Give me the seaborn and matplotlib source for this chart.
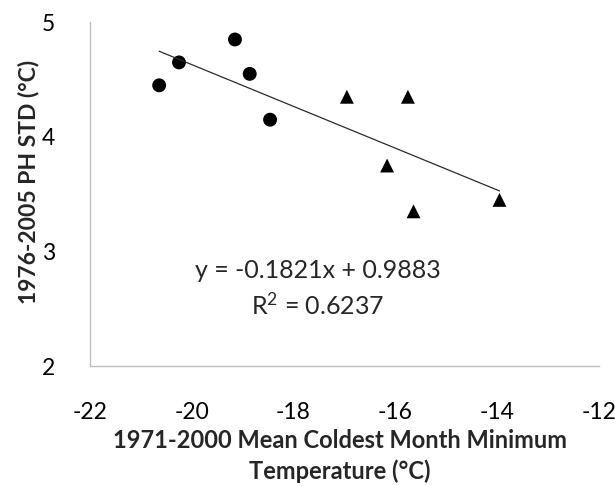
import numpy as np
import pandas as pd
import matplotlib
matplotlib.use("Agg")
import matplotlib.pyplot as plt
import seaborn as sns

# circle group (colder sites)
circle_x = [-20.64, -20.25, -19.15, -18.86, -18.46]
circle_y = [4.45, 4.65, 4.85, 4.55, 4.15]
# triangle group (warmer sites)
triangle_x = [-16.95, -15.75, -16.16, -15.64, -13.95]
triangle_y = [4.35, 4.35, 3.75, 3.35, 3.45]

x_ticks = [-22, -20, -18, -16, -14, -12]
y_ticks = [2, 3, 4, 5]
eq_text = "y = -0.1821x + 0.9883"
r2_text = "R$^2$ = 0.6237"

data = pd.DataFrame({
    "temp": circle_x + triangle_x,
    "std": circle_y + triangle_y,
    "group": ["circle"] * len(circle_x) + ["triangle"] * len(triangle_x),
})

sns.set_style("white")
plt.rcParams["font.family"] = ["Lato", "DejaVu Sans"]
plt.rcParams["mathtext.fontset"] = "custom"
plt.rcParams["mathtext.rm"] = "Lato"
plt.rcParams["mathtext.it"] = "Lato"
plt.rcParams["mathtext.default"] = "rm"

fig = plt.figure(figsize=(6.15, 4.86), dpi=100)
ax = fig.add_axes([0.1463, 0.2469, 0.8272, 0.7072])

sns.scatterplot(data=data, x="temp", y="std", style="group",
                markers={"circle": "o", "triangle": "^"},
                color="black", s=100, linewidth=0, legend=False, ax=ax)

# linear trend line across all points
sns.regplot(data=data, x="temp", y="std", scatter=False, ci=None,
            truncate=True, color="#2b2b2b", line_kws={"linewidth": 0.9}, ax=ax)

ax.set_xlim(-22, -12)
ax.set_ylim(2, 5)
ax.set_xticks(x_ticks)
ax.set_yticks(y_ticks)
ax.set_xticklabels([str(t) for t in x_ticks], fontsize=16.5)
ax.set_yticklabels([str(t) for t in y_ticks], fontsize=16.5)

for side in ["top", "right"]:
    ax.spines[side].set_visible(False)
for side in ["left", "bottom"]:
    ax.spines[side].set_color("#bfbfbf")
    ax.spines[side].set_linewidth(1.0)
ax.tick_params(axis="both", direction="out", length=6, width=1.0,
               color="#bfbfbf", labelcolor="black")
ax.tick_params(axis="x", pad=20)
ax.tick_params(axis="y", pad=19)

ax.set_xlabel("1971-2000 Mean Coldest Month Minimum\nTemperature (°C)",
              fontsize=17, fontweight="bold", linespacing=1.35)
ax.xaxis.set_label_coords(0.491, -0.262)
ax.xaxis.label.set_va("center")
ax.set_ylabel("1976-2005 PH STD (°C)", fontsize=16.5, fontweight="bold")
ax.yaxis.set_label_coords(-0.12, 0.537)
ax.yaxis.label.set_va("center")

ax.text(-17.52, 2.83, eq_text, fontsize=18, ha="center", va="center")
ax.text(-17.52, 2.53, r2_text, fontsize=18, ha="center", va="center")

fig.savefig("out.png", dpi=100)
